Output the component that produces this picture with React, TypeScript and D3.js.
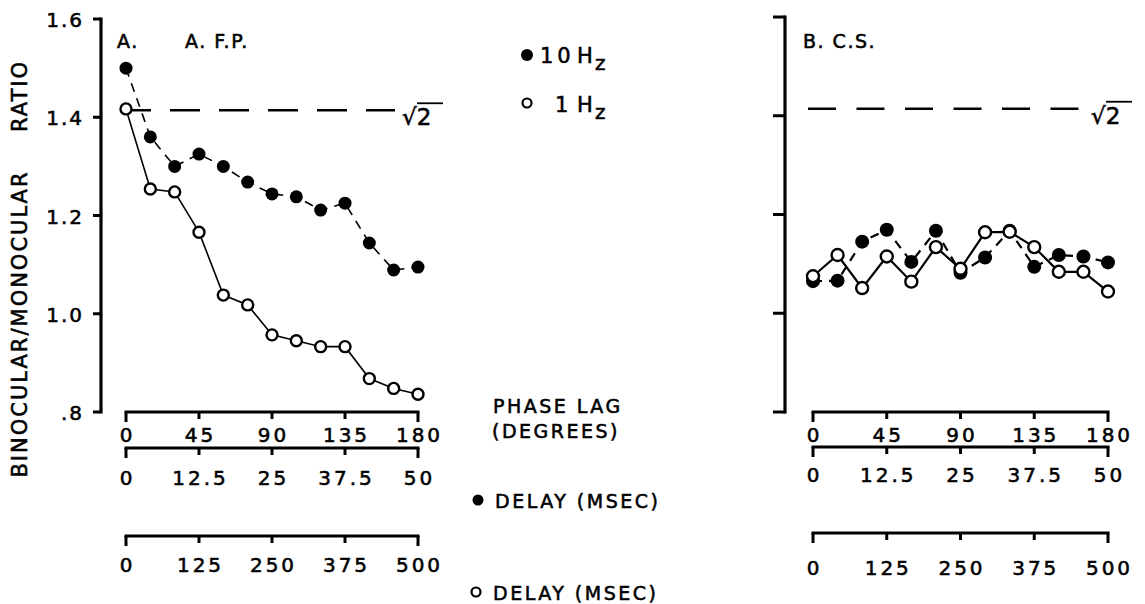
import React from "react";
import * as d3 from "d3";

// ---------- data ----------
const phaseDeg = [0, 15, 30, 45, 60, 75, 90, 105, 120, 135, 150, 165, 180];
const fpHz10 = [1.5, 1.36, 1.3, 1.325, 1.3, 1.268, 1.244, 1.238, 1.211, 1.225, 1.144, 1.089, 1.095];
const fpHz1 = [1.417, 1.254, 1.248, 1.166, 1.038, 1.018, 0.957, 0.945, 0.933, 0.933, 0.868, 0.848, 0.836];
const csHz10 = [1.065, 1.066, 1.145, 1.169, 1.104, 1.167, 1.082, 1.113, 1.167, 1.094, 1.118, 1.115, 1.103];
const csHz1 = [1.075, 1.118, 1.051, 1.115, 1.064, 1.134, 1.09, 1.164, 1.165, 1.134, 1.084, 1.084, 1.044];
const yTicks = [0.8, 1.0, 1.2, 1.4, 1.6];
const yTickLabels = [".8", "1.0", "1.2", "1.4", "1.6"];
const phaseTicks = [0, 45, 90, 135, 180];
const delay10Ticks = [0, 12.5, 25, 37.5, 50];
const delay1Ticks = [0, 125, 250, 375, 500];
const SQRT2 = Math.SQRT2;

const FONT = "'DejaVu Sans', sans-serif";
const TS = { fill: "#000", stroke: "#000", strokeWidth: 0.55, fontFamily: FONT } as const;

type PanelProps = {
  axisX: number;
  yTop: number;
  x0: number;
  x1: number;
  axisY1: number;
  axisY2: number;
  axisY3: number;
  lab1: number;
  lab2: number;
  lab3: number;
  hz10: number[];
  hz1: number[];
  showYLabels: boolean;
  dashX0: number;
  dashX1: number;
  dashArr: string;
  sqrtX: number;
  rF: number;
  rO: number;
  lw: number;
};

function AxisBracket({ scale, ticks, y, labY, fmt }: { scale: d3.ScaleLinear<number, number>; ticks: number[]; y: number; labY: number; fmt: (d: number) => string }) {
  const [r0, r1] = scale.range();
  return (
    <g>
      <line x1={r0 - 1.5} x2={r1 + 1.5} y1={y} y2={y} stroke="#000" strokeWidth={3.2} />
      {ticks.map((t, i) => {
        const end = i === 0 || i === ticks.length - 1;
        return (
          <line key={i} x1={scale(t)} x2={scale(t)} y1={y} y2={y + (end ? 10 : 7)} stroke="#000" strokeWidth={3} />
        );
      })}
      {ticks.map((t, i) => (
        <text key={"l" + i} x={scale(t) + 1.5} y={labY} textAnchor="middle" fontSize={20} letterSpacing={3} {...TS}>
          {fmt(t)}
        </text>
      ))}
    </g>
  );
}

function Panel(p: PanelProps) {
  const y = d3.scaleLinear().domain([0.8, 1.6]).range([412, p.yTop]);
  const xPh = d3.scaleLinear().domain([0, 180]).range([p.x0, p.x1]);
  const xD10 = d3.scaleLinear().domain([0, 50]).range([p.x0, p.x1]);
  const xD1 = d3.scaleLinear().domain([0, 500]).range([p.x0, p.x1]);
  const line = d3
    .line<number>()
    .x((_, i) => xPh(phaseDeg[i]))
    .y((d) => y(d));
  const ys = y(SQRT2);
  return (
    <g>
      {/* y axis */}
      <line x1={p.axisX} x2={p.axisX} y1={y(1.6) - 1.5} y2={y(0.8) + 1.5} stroke="#000" strokeWidth={3.2} />
      {yTicks.map((t, i) => (
        <line key={i} x1={p.axisX - (p.showYLabels ? 8 : 12)} x2={p.axisX} y1={y(t)} y2={y(t)} stroke="#000" strokeWidth={3} />
      ))}
      {p.showYLabels &&
        yTicks.map((t, i) => (
          <text key={"yl" + i} x={p.axisX - 17} y={y(t) + 8} textAnchor="end" fontSize={20} letterSpacing={2} {...TS}>
            {yTickLabels[i]}
          </text>
        ))}
      {/* sqrt2 reference */}
      <line x1={p.dashX0} x2={p.dashX1} y1={ys} y2={ys} stroke="#000" strokeWidth={2.4} strokeDasharray={p.dashArr} />
      <text x={p.sqrtX} y={ys + 15} fontSize={23} {...TS}>√2</text>
      <line x1={p.sqrtX + 15} x2={p.sqrtX + 41} y1={ys - 7} y2={ys - 7} stroke="#000" strokeWidth={1.8} />
      {/* data */}
      <path d={line(p.hz1) || ""} fill="none" stroke="#000" strokeWidth={p.lw} />
      <path d={line(p.hz10) || ""} fill="none" stroke="#000" strokeWidth={p.lw} strokeDasharray="9 7" />
      {p.hz10.map((v, i) => (
        <circle key={"f" + i} cx={xPh(phaseDeg[i])} cy={y(v)} r={p.rF} fill="#000" />
      ))}
      {p.hz1.map((v, i) => (
        <circle key={"o" + i} cx={xPh(phaseDeg[i])} cy={y(v)} r={p.rO} fill="#fff" stroke="#000" strokeWidth={2.4} />
      ))}
      {/* x axes */}
      <AxisBracket scale={xPh} ticks={phaseTicks} y={p.axisY1} labY={p.lab1} fmt={(d) => String(d)} />
      <AxisBracket scale={xD10} ticks={delay10Ticks} y={p.axisY2} labY={p.lab2} fmt={(d) => String(d)} />
      <AxisBracket scale={xD1} ticks={delay1Ticks} y={p.axisY3} labY={p.lab3} fmt={(d) => String(d)} />
    </g>
  );
}

export default function App() {
  return (
    <svg width={1145} height={604} style={{ position: "absolute", left: 0, top: 0, background: "#fff" }}>
      <rect x={0} y={0} width={1145} height={604} fill="#fff" />
      {/* y-axis title */}
      <text transform="translate(27,324) rotate(-90)" textAnchor="middle" fontSize={21} letterSpacing={2} {...TS}>
        BINOCULAR/MONOCULAR
      </text>
      <text transform="translate(27,96) rotate(-90)" textAnchor="middle" fontSize={21} letterSpacing={2} {...TS}>
        RATIO
      </text>
      {/* panel titles */}
      <text x={117} y={48} fontSize={19} letterSpacing={1.5} {...TS}>A.</text>
      <text x={185} y={48} fontSize={19} letterSpacing={1.5} {...TS}>A. F.P.</text>
      <text x={803} y={48} fontSize={19} letterSpacing={1.5} {...TS}>B. C.S.</text>

      <Panel
        axisX={101}
        yTop={19}
        x0={126}
        x1={418}
        axisY1={412}
        axisY2={448}
        axisY3={536}
        lab1={442}
        lab2={485}
        lab3={572}
        hz10={fpHz10}
        hz1={fpHz1}
        showYLabels={true}
        dashX0={121}
        dashX1={395}
        dashArr="30 19"
        sqrtX={402}
        rF={6.5}
        rO={5.5}
        lw={1.6}
      />
      <Panel
        axisX={785}
        yTop={17}
        x0={813}
        x1={1108}
        axisY1={412}
        axisY2={447}
        axisY3={533}
        lab1={442}
        lab2={482}
        lab3={575}
        hz10={csHz10}
        hz1={csHz1}
        showYLabels={false}
        dashX0={808}
        dashX1={1080}
        dashArr="28 20.5"
        sqrtX={1091}
        rF={7}
        rO={6}
        lw={2.2}
      />

      {/* legend */}
      <circle cx={527} cy={55} r={6} fill="#000" />
      <text x={540} y={63} fontSize={21} letterSpacing={4} {...TS}>10</text>
      <text x={577} y={63} fontSize={21} {...TS}>H</text>
      <text x={595} y={70} fontSize={20} {...TS}>z</text>
      <circle cx={527} cy={103} r={4.5} fill="#fff" stroke="#000" strokeWidth={2.2} />
      <text x={555} y={112} fontSize={21} {...TS}>1</text>
      <text x={577} y={112} fontSize={21} {...TS}>H</text>
      <text x={595} y={119} fontSize={20} {...TS}>z</text>

      {/* axis captions */}
      <text x={493} y={413} fontSize={19} letterSpacing={2.5} {...TS}>PHASE LAG</text>
      <text x={492} y={438} fontSize={19} letterSpacing={2.5} {...TS}>(DEGREES)</text>
      <circle cx={478} cy={500} r={5.5} fill="#000" />
      <text x={495} y={508} fontSize={19} letterSpacing={2.5} {...TS}>DELAY (MSEC)</text>
      <circle cx={476} cy={592} r={4.5} fill="#fff" stroke="#000" strokeWidth={2.2} />
      <text x={493} y={600} fontSize={19} letterSpacing={2.5} {...TS}>DELAY (MSEC)</text>
    </svg>
  );
}
